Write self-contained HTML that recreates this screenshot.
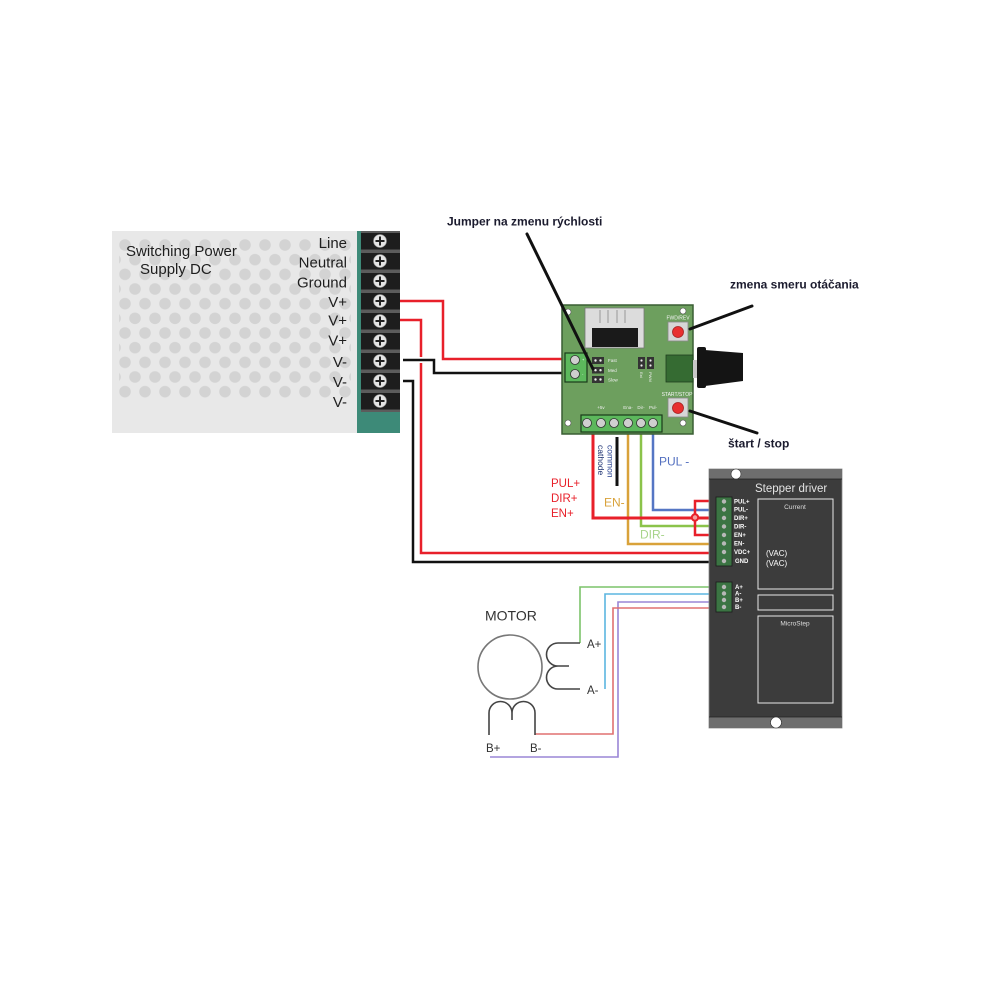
<!DOCTYPE html>
<html><head><meta charset="utf-8"><style>
html,body{margin:0;padding:0;background:#fff;}
svg{display:block;}
text{font-family:"Liberation Sans",Arial,sans-serif;}
</style></head><body>
<svg width="1000" height="1000" viewBox="0 0 1000 1000" xmlns="http://www.w3.org/2000/svg">
<defs>
<pattern id="dots" patternUnits="userSpaceOnUse" x="115" y="239" width="20" height="29.333">
<circle cx="10" cy="6" r="5.8" fill="#d3d3d3"/>
<circle cx="0" cy="20.67" r="5.8" fill="#d3d3d3"/>
<circle cx="20" cy="20.67" r="5.8" fill="#d3d3d3"/>
</pattern>
</defs>
<rect width="1000" height="1000" fill="#fff"/>

<!-- Power supply -->
<rect x="112" y="231" width="246" height="202" fill="#e8e8e8"/>
<rect x="119.2" y="239" width="231.6" height="159" fill="url(#dots)"/>
<g font-size="15" fill="#1e1e1e">
<text x="126" y="256">Switching Power</text>
<text x="140" y="274">Supply DC</text>
</g>
<g font-size="15" fill="#1e1e1e" text-anchor="end">
<text x="347" y="248">Line</text>
<text x="347" y="267.5">Neutral</text>
<text x="347" y="287.5">Ground</text>
<text x="347" y="307">V+</text>
<text x="347" y="325.5">V+</text>
<text x="347" y="345.5">V+</text>
<text x="347" y="367">V-</text>
<text x="347" y="387">V-</text>
<text x="347" y="407">V-</text>
</g>
<rect x="357" y="231" width="43" height="202" fill="#3d8a78"/>
<rect x="361" y="231" width="39" height="181" fill="#5c5c5c"/>
<g fill="#1d1d1d">
<rect x="361" y="233" width="39" height="16.5"/>
<rect x="361" y="253" width="39" height="16.5"/>
<rect x="361" y="273" width="39" height="16.5"/>
<rect x="361" y="293" width="39" height="16.5"/>
<rect x="361" y="313" width="39" height="16.5"/>
<rect x="361" y="333" width="39" height="16.5"/>
<rect x="361" y="353" width="39" height="16.5"/>
<rect x="361" y="373" width="39" height="16.5"/>
<rect x="361" y="393" width="39" height="16.5"/>
</g>
<g fill="#e4e4e4" stroke="#999" stroke-width="0.6">
<circle cx="380" cy="241" r="6.5"/><circle cx="380" cy="261" r="6.5"/><circle cx="380" cy="281" r="6.5"/>
<circle cx="380" cy="301" r="6.5"/><circle cx="380" cy="321" r="6.5"/><circle cx="380" cy="341" r="6.5"/>
<circle cx="380" cy="361" r="6.5"/><circle cx="380" cy="381" r="6.5"/><circle cx="380" cy="401" r="6.5"/>
</g>
<g stroke="#222" stroke-width="2">
<path d="M375.5 241h9M380 236.5v9"/><path d="M375.5 261h9M380 256.5v9"/><path d="M375.5 281h9M380 276.5v9"/>
<path d="M375.5 301h9M380 296.5v9"/><path d="M375.5 321h9M380 316.5v9"/><path d="M375.5 341h9M380 336.5v9"/>
<path d="M375.5 361h9M380 356.5v9"/><path d="M375.5 381h9M380 376.5v9"/><path d="M375.5 401h9M380 396.5v9"/>
</g>

<!-- PSU wires -->
<g fill="none" stroke-linejoin="miter">
<path d="M400 301H443V359H563" stroke="#e8202a" stroke-width="2.5"/>
<path d="M400 320H421V553H712" stroke="#e8202a" stroke-width="2.5"/>
<path d="M403 360H434V373H563" stroke="#fff" stroke-width="6"/>
<path d="M403 360H434V373H563" stroke="#111" stroke-width="2.5"/>
<path d="M403 381H413V562H712" stroke="#111" stroke-width="2.5"/>
</g>

<!-- Board wires -->
<g fill="none" stroke-width="2.5">
<path d="M628 432V544H712" stroke="#d9a23a"/>
<path d="M641 432V526H712" stroke="#8bc34a"/>
<path d="M653 432V510H712" stroke="#5576c4"/>
<path d="M593 432V518H712" stroke="#e8202a" stroke-width="3"/>
<path d="M712 501H695V535H712" stroke="#e8202a"/>
<path d="M617 437V486" stroke="#111" stroke-width="3"/>
</g>
<circle cx="695" cy="517.5" r="3.2" fill="#f4a0a0" stroke="#e8202a" stroke-width="2"/>

<!-- labels near wires -->
<g font-size="11.5" fill="#e8202a">
<text x="551" y="487">PUL+</text>
<text x="551" y="502">DIR+</text>
<text x="551" y="517">EN+</text>
</g>
<text x="659" y="465.5" font-size="12" fill="#5470c0">PUL -</text>
<text x="604" y="506.5" font-size="12" fill="#d9a23a">EN-</text>
<text x="640" y="538.5" font-size="12" fill="#a8d48a">DIR-</text>
<text transform="translate(607.5,445) rotate(90)" font-size="8.5" fill="#223c8c">common</text>
<text transform="translate(598,445) rotate(90)" font-size="8.5" fill="#1b2f6e">cathode</text>

<!-- Motor wires -->
<g fill="none" stroke-width="1.6">
<path d="M716 587H580V643" stroke="#7cc36a"/>
<path d="M716 594H605V689" stroke="#5bb5e0"/>
<path d="M716 602H618V757H490" stroke="#9a85d6"/>
<path d="M716 608H613V734H535" stroke="#e07070"/>
</g>
<!-- Motor -->
<g fill="none" stroke="#444" stroke-width="1.6">
<circle cx="510" cy="667" r="32" stroke="#777"/>
<path d="M580 643H558A11.5 11.5 0 0 0 558 666H569M558 666A11.5 11.5 0 0 0 558 689H580"/>
<path d="M489 735V713A11.5 11.5 0 0 1 512 713V720M512 713A11.5 11.5 0 0 1 535 713V735"/>
</g>
<text x="485" y="620.5" font-size="14" fill="#333">MOTOR</text>
<g font-size="11.5" fill="#333">
<text x="587" y="648">A+</text>
<text x="587" y="694">A-</text>
<text x="486" y="752">B+</text>
<text x="530" y="752">B-</text>
</g>

<!-- Controller board -->
<rect x="562" y="305" width="131" height="129" fill="#6d9f5e" stroke="#3a5e33" stroke-width="1.5"/>
<g fill="#fff" stroke="#555" stroke-width="0.6">
<circle cx="568" cy="312" r="3"/><circle cx="683" cy="311" r="3"/>
<circle cx="568" cy="423" r="3"/><circle cx="683" cy="423" r="3"/>
</g>
<rect x="585" y="308" width="59" height="40" fill="#dcdcdc" stroke="#777" stroke-width="0.8"/>
<g stroke="#888" stroke-width="0.8"><path d="M600 310V323M608 310V323M617 310V323M625 310V323"/></g>
<rect x="592" y="328" width="46" height="19" fill="#1a1a1a"/>
<rect x="565" y="353" width="22" height="29" fill="#5cb85c" stroke="#1a3a1a" stroke-width="1.2"/>
<g fill="#cfcfcf" stroke="#333" stroke-width="0.8">
<circle cx="575" cy="360" r="4.5"/><circle cx="575" cy="374" r="4.5"/>
</g>
<g font-size="4" fill="#fff"><text x="582" y="361">+</text><text x="582" y="375.5">-</text></g>
<g fill="#333">
<rect x="592" y="357" width="12" height="7"/>
<rect x="592" y="367" width="12" height="6.5"/>
<rect x="592" y="376" width="12" height="7"/>
<rect x="638" y="357" width="7" height="12"/>
<rect x="647" y="357" width="7" height="12"/>
</g>
<g fill="#eee">
<circle cx="595.5" cy="360.5" r="1.2"/><circle cx="600.5" cy="360.5" r="1.2"/>
<circle cx="595.5" cy="370.2" r="1.2"/><circle cx="600.5" cy="370.2" r="1.2"/>
<circle cx="595.5" cy="379.5" r="1.2"/><circle cx="600.5" cy="379.5" r="1.2"/>
<circle cx="641.5" cy="360.5" r="1.1"/><circle cx="641.5" cy="365.5" r="1.1"/>
<circle cx="650.5" cy="360.5" r="1.1"/><circle cx="650.5" cy="365.5" r="1.1"/>
</g>
<g font-size="4.5" fill="#f0f0f0">
<text x="608" y="362">Fast</text><text x="608" y="372">Med</text><text x="608" y="381.5">Slow</text>
</g>
<text transform="translate(640,372) rotate(90)" font-size="4" fill="#f0f0f0">Ext</text>
<text transform="translate(649,372) rotate(90)" font-size="4" fill="#f0f0f0">PWM</text>
<g font-size="5" fill="#f5f5f5" text-anchor="middle">
<text x="678" y="319.5">FWD/REV</text>
<text x="677" y="396">START/STOP</text>
</g>
<rect x="668" y="322" width="20" height="19" fill="#d6d6d6" stroke="#888" stroke-width="0.8"/>
<circle cx="678" cy="332" r="5.5" fill="#e83030" stroke="#a52020" stroke-width="0.8"/>
<rect x="668" y="398" width="20" height="19" fill="#d6d6d6" stroke="#888" stroke-width="0.8"/>
<circle cx="678" cy="408" r="5.5" fill="#e83030" stroke="#a52020" stroke-width="0.8"/>
<rect x="666" y="355" width="27" height="27" fill="#356b32" stroke="#1f3f1d" stroke-width="0.8"/>
<rect x="693" y="360" width="5" height="18" fill="#c8c8c8"/>
<rect x="697" y="347" width="9" height="41" rx="2" fill="#141414"/>
<path d="M705 350L743 353V381L705 386Z" fill="#141414"/>
<rect x="581" y="415" width="81" height="17" fill="#5cb85c" stroke="#1a3a1a" stroke-width="1.2"/>
<g fill="#cfcfcf" stroke="#333" stroke-width="0.8">
<circle cx="587" cy="423" r="4.5"/><circle cx="601" cy="423" r="4.5"/><circle cx="614" cy="423" r="4.5"/>
<circle cx="628" cy="423" r="4.5"/><circle cx="641" cy="423" r="4.5"/><circle cx="653" cy="423" r="4.5"/>
</g>
<g font-size="4.5" fill="#f0f0f0" text-anchor="middle">
<text x="601" y="409">+5v</text><text x="628" y="409">Ena-</text><text x="641" y="409">Dir-</text><text x="653" y="409">Pul-</text>
</g>

<!-- pointer lines -->
<g stroke="#111" stroke-width="3" stroke-linecap="round">
<path d="M527 234L593 369"/>
<path d="M752 306L690 329"/>
<path d="M690 411L757 433"/>
</g>
<g font-size="12" font-weight="bold" fill="#1b1b2e">
<text x="447" y="225.5">Jumper na zmenu rýchlosti</text>
<text x="730" y="288.5">zmena smeru otáčania</text>
<text x="728" y="447.5">štart / stop</text>
</g>

<!-- Stepper driver -->
<rect x="709" y="469" width="133" height="259" fill="#3c3c3c" stroke="#8a8a8a" stroke-width="0.8"/>
<rect x="709" y="469" width="133" height="10" fill="#6e6e6e"/>
<rect x="709" y="717" width="133" height="11" fill="#6e6e6e"/>
<path d="M709 479H842M709 717H842" stroke="#222" stroke-width="0.8"/>
<circle cx="736" cy="474" r="5" fill="#fff" stroke="#333" stroke-width="0.6"/>
<circle cx="776" cy="722.5" r="5.5" fill="#fff" stroke="#333" stroke-width="0.6"/>
<text x="755" y="492" font-size="11.5" fill="#e4e4e4">Stepper driver</text>
<rect x="716" y="497" width="16" height="69" fill="#3b7443" stroke="#1a1a1a" stroke-width="0.8"/>
<rect x="716" y="582" width="16" height="30" fill="#3b7443" stroke="#1a1a1a" stroke-width="0.8"/>
<g fill="#b8b8b8">
<circle cx="724" cy="501.5" r="2.2"/><circle cx="724" cy="509.5" r="2.2"/><circle cx="724" cy="518" r="2.2"/>
<circle cx="724" cy="526.5" r="2.2"/><circle cx="724" cy="535" r="2.2"/><circle cx="724" cy="543.5" r="2.2"/>
<circle cx="724" cy="552" r="2.2"/><circle cx="724" cy="561" r="2.2"/>
<circle cx="724" cy="587" r="2.2"/><circle cx="724" cy="593.5" r="2.2"/><circle cx="724" cy="600" r="2.2"/><circle cx="724" cy="607" r="2.2"/>
</g>
<g font-size="6" font-weight="bold" fill="#fff">
<text x="734" y="503.5">PUL+</text><text x="734" y="511.5">PUL-</text><text x="734" y="520">DIR+</text>
<text x="734" y="528.5">DIR-</text><text x="734" y="537">EN+</text><text x="734" y="545.5">EN-</text>
<text x="734" y="554">VDC+</text><text x="735" y="563">GND</text>
<text x="735" y="589">A+</text><text x="735" y="595.5">A-</text><text x="735" y="602">B+</text><text x="735" y="609">B-</text>
</g>
<g fill="none" stroke="#e8e8e8" stroke-width="1">
<rect x="758" y="499" width="75" height="90"/>
<rect x="758" y="595" width="75" height="15"/>
<rect x="758" y="616" width="75" height="87"/>
</g>
<g font-size="6.5" fill="#ddd" text-anchor="middle">
<text x="795" y="509">Current</text>
<text x="795" y="625.5">MicroStep</text>
</g>
<g font-size="8" fill="#fff">
<text x="766" y="556">(VAC)</text>
<text x="766" y="566">(VAC)</text>
</g>
</svg>
</body></html>
